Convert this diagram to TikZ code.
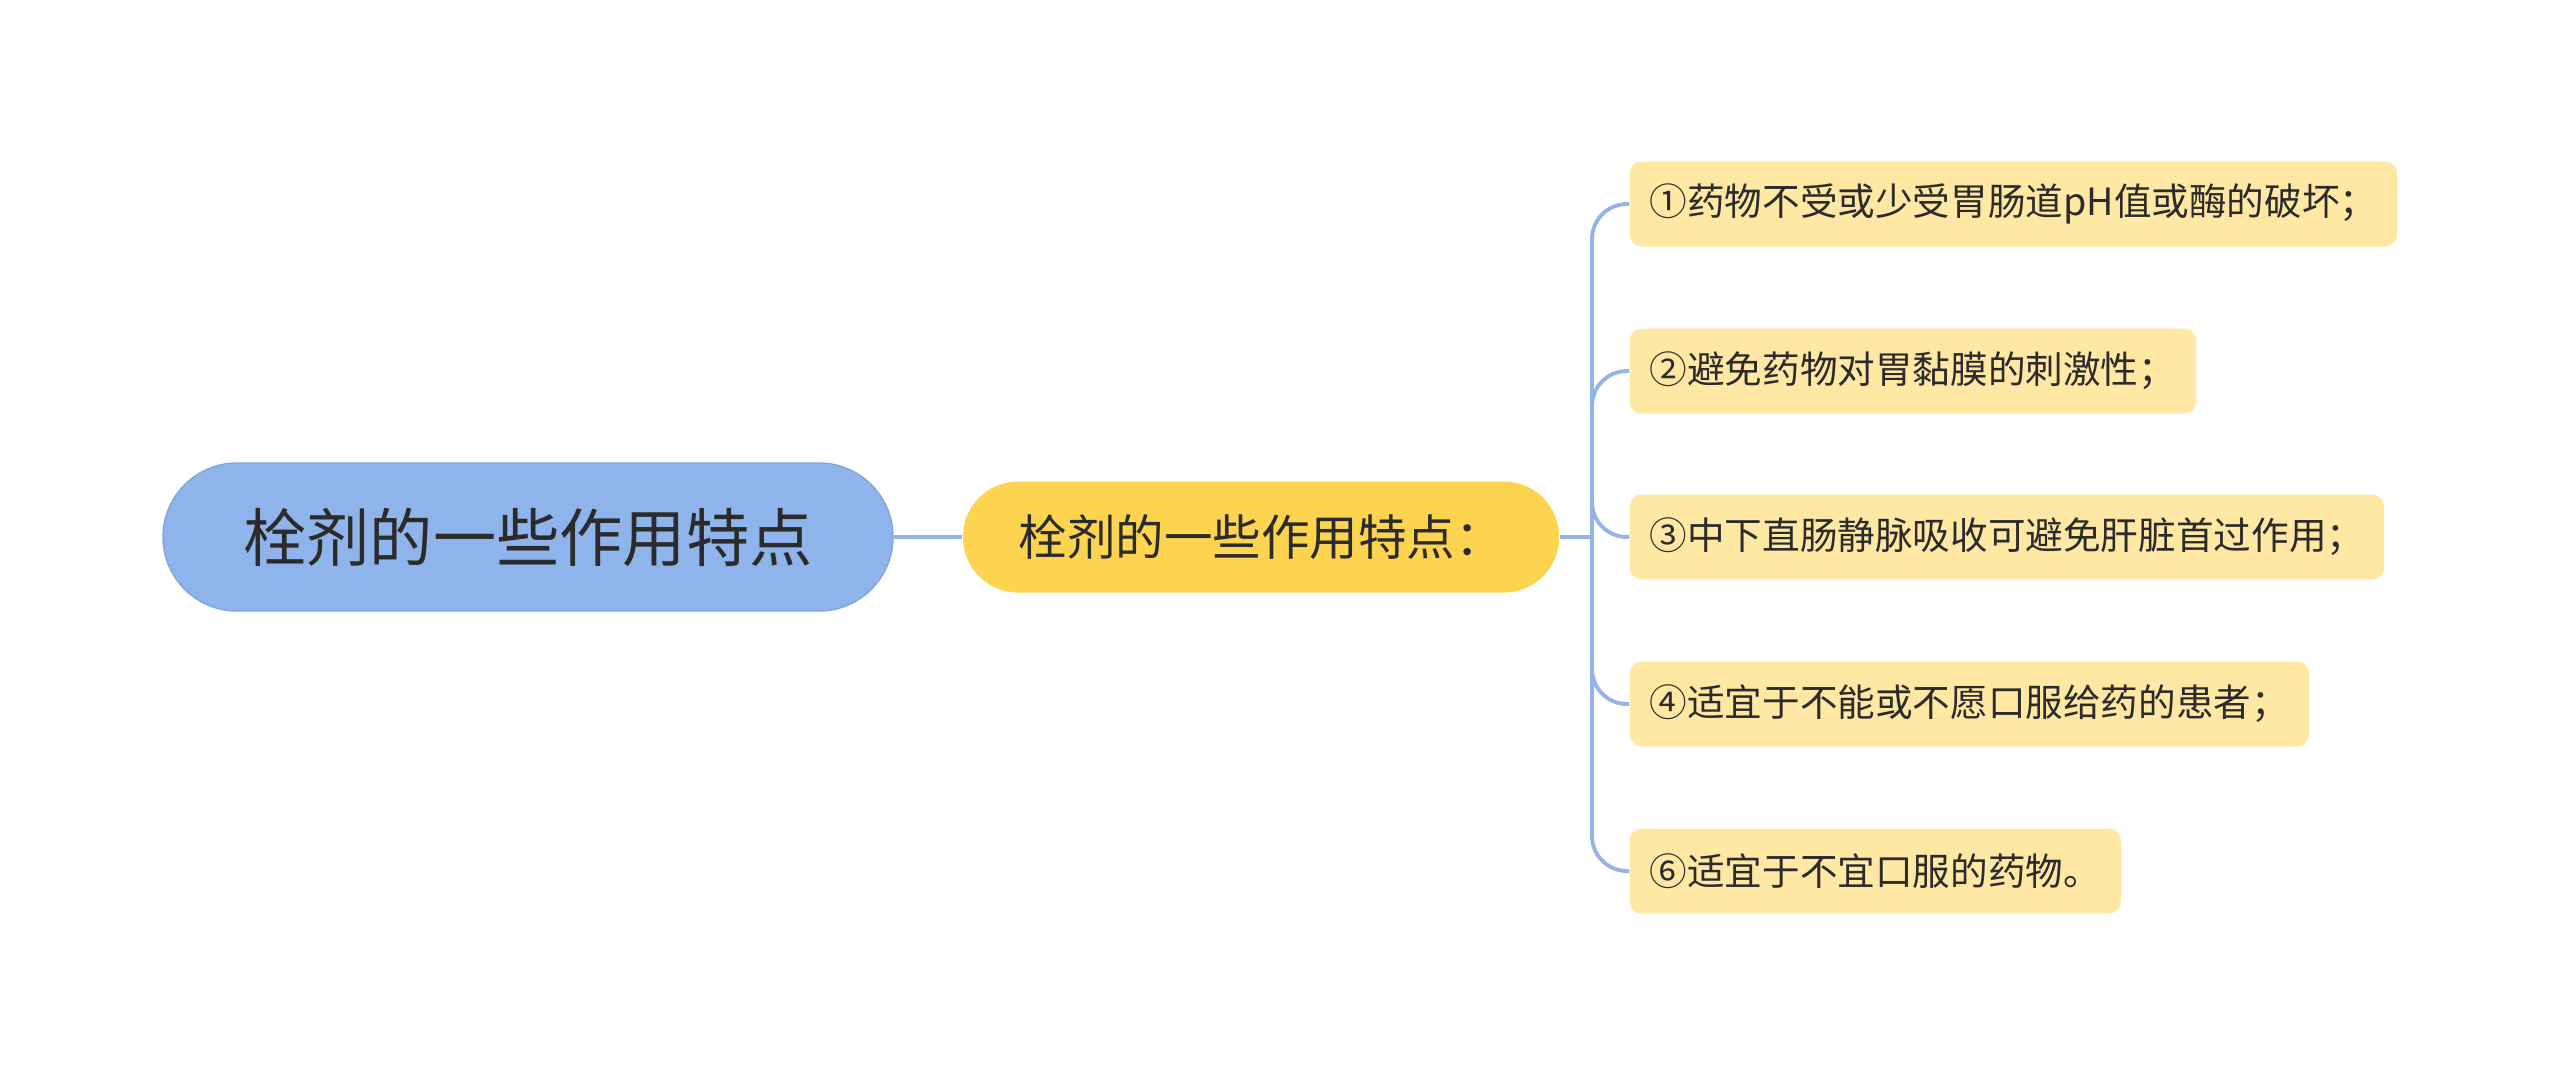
\documentclass[tikz,border=0pt]{standalone}
\usepackage{fontspec}
\setmainfont{Noto Sans CJK SC}
\usepackage{tikz}
\usetikzlibrary{positioning,calc}
\definecolor{ink}      {HTML}{2B2B2B}
\definecolor{rootblue} {HTML}{8FB4EB}
\definecolor{sun}      {HTML}{FDD44F}
\definecolor{cream}    {HTML}{FFE8A3}
\definecolor{linkblue} {HTML}{93B4E6}
\tikzset{
  % --- nodes
  mapnode/.style = {align=center, text=ink, inner sep=0pt},
  root/.style    = {mapnode, fill=rootblue, draw=rootblue!92!black, line width=0.4pt,
                    minimum width=7.3cm, minimum height=1.48cm, rounded corners=0.74cm,
                    font=\fontsize{18pt}{22pt}\selectfont},
  topic/.style   = {mapnode, fill=sun, minimum width=5.96cm, minimum height=1.11cm,
                    rounded corners=0.55cm, font=\fontsize{13.8pt}{17pt}\selectfont},
  leaf/.style    = {mapnode, fill=cream, anchor=west, minimum height=0.85cm,
                    inner xsep=0.2cm, rounded corners=0.12cm,
                    font=\fontsize{10.7pt}{13pt}\selectfont},
  % --- edges
  link/.style    = {draw=linkblue, line width=1.1pt},
}
\begin{document}
\begin{tikzpicture}
  \useasboundingbox (0,0) rectangle (25.6,-10.76);

  \node[root]  (root) at (5.28,-5.37) {栓剂的一些作用特点};
  \node[topic] (mid)  at (12.61,-5.37) {栓剂的一些作用特点：};

  \node[leaf] (l1) at (16.29,-2.04) {①药物不受或少受胃肠道pH值或酶的破坏；};
  \node[leaf] (l2) at (16.29,-3.71) {②避免药物对胃黏膜的刺激性；};
  \node[leaf] (l3) at (16.29,-5.37) {③中下直肠静脉吸收可避免肝脏首过作用；};
  \node[leaf] (l4) at (16.29,-7.04) {④适宜于不能或不愿口服给药的患者；};
  \node[leaf] (l5) at (16.29,-8.71) {⑥适宜于不宜口服的药物。};

  \coordinate (hub) at (15.92,-5.37);

  \draw[link] (root.east) -- (mid.west);
  \draw[link] (mid.east) -- (hub);
  \foreach \i in {1,...,5}
    \draw[link, rounded corners=0.35cm] (hub) |- (l\i.west);
\end{tikzpicture}
\end{document}
